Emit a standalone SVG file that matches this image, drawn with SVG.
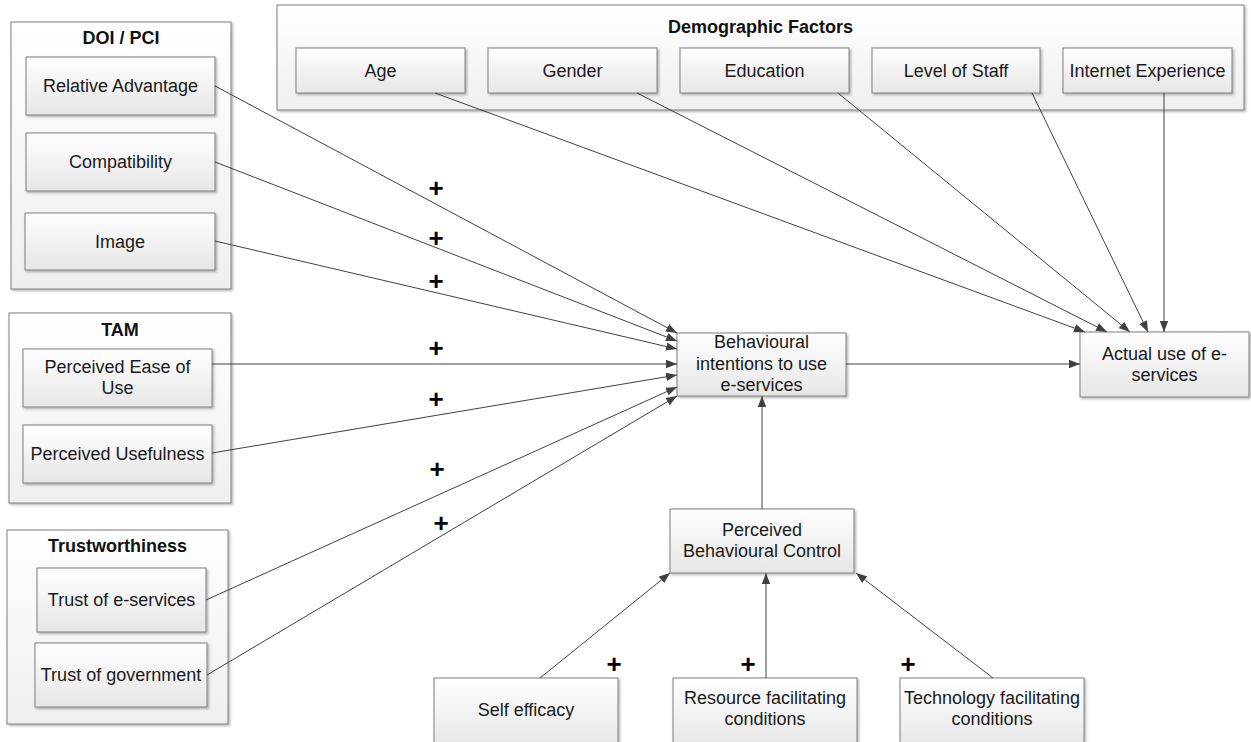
<svg xmlns="http://www.w3.org/2000/svg" width="1251" height="742" viewBox="0 0 1251 742">
  <defs>
    <linearGradient id="boxFill" x1="0" y1="0" x2="0" y2="1">
      <stop offset="0" stop-color="#ffffff"/>
      <stop offset="1" stop-color="#e6e6e6"/>
    </linearGradient>
    <linearGradient id="groupFill" x1="0" y1="0" x2="0" y2="1">
      <stop offset="0" stop-color="#ffffff"/>
      <stop offset="1" stop-color="#efefef"/>
    </linearGradient>
    <filter id="shadow" x="-5%" y="-5%" width="115%" height="120%">
      <feDropShadow dx="1.5" dy="1.5" stdDeviation="1" flood-color="#000" flood-opacity="0.3"/>
    </filter>
    <marker id="arrow" markerWidth="12" markerHeight="10" refX="11" refY="5" orient="auto" markerUnits="userSpaceOnUse">
      <path d="M0,0.8 L11,5 L0,9.2 Z" fill="#404040"/>
    </marker>
    <style>
      .group { fill: url(#groupFill); stroke: #7f7f7f; stroke-width: 1; filter: url(#shadow); }
      .box { fill: url(#boxFill); stroke: #7f7f7f; stroke-width: 1; filter: url(#shadow); }
      .label { font-family: "Liberation Sans", Arial, sans-serif; font-size: 18px; fill: #1a1a1a; text-anchor: middle; }
      .title { font-family: "Liberation Sans", Arial, sans-serif; font-size: 18px; font-weight: bold; fill: #111; text-anchor: middle; }
      .plus { font-family: "Liberation Sans", Arial, sans-serif; font-size: 26px; font-weight: bold; fill: #000; text-anchor: middle; }
      .link { stroke: #404040; stroke-width: 1; fill: none; marker-end: url(#arrow); }
    </style>
  </defs>

  <rect width="1251" height="742" fill="#ffffff"/>

  <!-- DOI / PCI group -->
  <g id="doi-pci">
    <rect class="group" x="11" y="22" width="220" height="267"/>
    <text class="title" x="121" y="44">DOI / PCI</text>
  </g>
  <g id="relative-advantage">
    <rect class="box" x="26" y="57" width="189" height="58"/>
    <text class="label" x="120.5" y="92">Relative Advantage</text>
  </g>
  <g id="compatibility">
    <rect class="box" x="26" y="133" width="189" height="58"/>
    <text class="label" x="120.5" y="168">Compatibility</text>
  </g>
  <g id="image">
    <rect class="box" x="25" y="213" width="190" height="57"/>
    <text class="label" x="120" y="248">Image</text>
  </g>

  <!-- TAM group -->
  <g id="tam">
    <rect class="group" x="9" y="313" width="222" height="190"/>
    <text class="title" x="120" y="336">TAM</text>
  </g>
  <g id="perceived-ease-of-use">
    <rect class="box" x="23" y="349" width="189" height="58"/>
    <text class="label" x="117.5" y="373">Perceived Ease of</text>
    <text class="label" x="117.5" y="394">Use</text>
  </g>
  <g id="perceived-usefulness">
    <rect class="box" x="23" y="425" width="189" height="58"/>
    <text class="label" x="117.5" y="460">Perceived Usefulness</text>
  </g>

  <!-- Trustworthiness group -->
  <g id="trustworthiness">
    <rect class="group" x="7" y="530" width="221" height="194"/>
    <text class="title" x="117.5" y="552">Trustworthiness</text>
  </g>
  <g id="trust-e-services">
    <rect class="box" x="37" y="568" width="169" height="64"/>
    <text class="label" x="121.5" y="606">Trust of e-services</text>
  </g>
  <g id="trust-government">
    <rect class="box" x="35" y="643" width="172" height="64"/>
    <text class="label" x="121" y="681">Trust of government</text>
  </g>

  <!-- Demographic Factors group -->
  <g id="demographic-factors">
    <rect class="group" x="277" y="5" width="967" height="105"/>
    <text class="title" x="760.5" y="33">Demographic Factors</text>
  </g>
  <g id="age">
    <rect class="box" x="296" y="48" width="169" height="45"/>
    <text class="label" x="380.5" y="77">Age</text>
  </g>
  <g id="gender">
    <rect class="box" x="488" y="48" width="169" height="45"/>
    <text class="label" x="572.5" y="77">Gender</text>
  </g>
  <g id="education">
    <rect class="box" x="680" y="48" width="169" height="45"/>
    <text class="label" x="764.5" y="77">Education</text>
  </g>
  <g id="level-of-staff">
    <rect class="box" x="872" y="48" width="168" height="45"/>
    <text class="label" x="956" y="77">Level of Staff</text>
  </g>
  <g id="internet-experience">
    <rect class="box" x="1063" y="48" width="169" height="45"/>
    <text class="label" x="1147.5" y="77">Internet Experience</text>
  </g>

  <!-- Core constructs -->
  <g id="behavioural-intentions">
    <rect class="box" x="677" y="333" width="169" height="63"/>
    <text class="label" x="761.5" y="348">Behavioural</text>
    <text class="label" x="761.5" y="369.5">intentions to use</text>
    <text class="label" x="761.5" y="391">e-services</text>
  </g>
  <g id="actual-use">
    <rect class="box" x="1080" y="332" width="169" height="65"/>
    <text class="label" x="1164.5" y="360">Actual use of e-</text>
    <text class="label" x="1164.5" y="381">services</text>
  </g>
  <g id="perceived-behavioural-control">
    <rect class="box" x="670" y="509" width="184" height="64"/>
    <text class="label" x="762" y="536">Perceived</text>
    <text class="label" x="762" y="557">Behavioural Control</text>
  </g>
  <g id="self-efficacy">
    <rect class="box" x="434" y="678" width="184" height="70"/>
    <text class="label" x="526" y="716">Self efficacy</text>
  </g>
  <g id="resource-facilitating">
    <rect class="box" x="673" y="678" width="184" height="70"/>
    <text class="label" x="765" y="704">Resource facilitating</text>
    <text class="label" x="765" y="725">conditions</text>
  </g>
  <g id="technology-facilitating">
    <rect class="box" x="900" y="678" width="184" height="70"/>
    <text class="label" x="992" y="704">Technology facilitating</text>
    <text class="label" x="992" y="725">conditions</text>
  </g>

  <!-- Connectors -->
  <g id="connectors">
    <line class="link" x1="215" y1="86" x2="677" y2="333"/>
    <line class="link" x1="215" y1="162" x2="677" y2="341"/>
    <line class="link" x1="215" y1="241" x2="677" y2="349"/>
    <line class="link" x1="212" y1="364" x2="677" y2="364"/>
    <line class="link" x1="212" y1="453" x2="677" y2="375"/>
    <line class="link" x1="206" y1="600" x2="677" y2="387"/>
    <line class="link" x1="207" y1="675" x2="677" y2="396"/>

    <line class="link" x1="435" y1="93" x2="1085" y2="332"/>
    <line class="link" x1="637" y1="93" x2="1107" y2="332"/>
    <line class="link" x1="838" y1="93" x2="1130" y2="332"/>
    <line class="link" x1="1032" y1="93" x2="1148" y2="332"/>
    <line class="link" x1="1164" y1="93" x2="1164" y2="332"/>

    <line class="link" x1="846" y1="364" x2="1080" y2="364"/>
    <line class="link" x1="762" y1="509" x2="762" y2="396"/>

    <line class="link" x1="540" y1="678" x2="670" y2="573"/>
    <line class="link" x1="766" y1="678" x2="766" y2="573"/>
    <line class="link" x1="993" y1="678" x2="856" y2="573"/>
  </g>

  <!-- Positive-effect signs -->
  <g id="signs">
    <text class="plus" x="436" y="197">+</text>
    <text class="plus" x="436" y="247">+</text>
    <text class="plus" x="436" y="290">+</text>
    <text class="plus" x="436" y="357">+</text>
    <text class="plus" x="436" y="408">+</text>
    <text class="plus" x="437" y="478">+</text>
    <text class="plus" x="441" y="532">+</text>
    <text class="plus" x="614" y="673">+</text>
    <text class="plus" x="748" y="673">+</text>
    <text class="plus" x="908" y="673">+</text>
  </g>
</svg>
